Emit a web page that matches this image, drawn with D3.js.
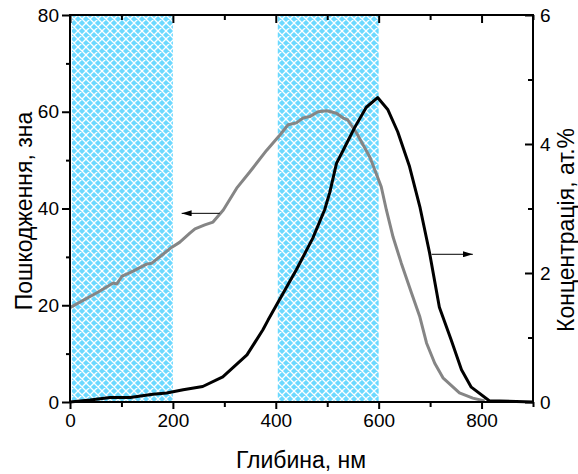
<!DOCTYPE html>
<html>
<head>
<meta charset="utf-8">
<script src="https://cdn.jsdelivr.net/npm/d3@7"></script>
<style>
  body { margin: 0; background: #fff; }
  svg { font-family: "Liberation Sans", Arial, sans-serif; }
</style>
</head>
<body>
<svg id="chart" width="578" height="474"></svg>
<script>
// damage (left axis), depth in nm
const damageDepth = [0, 54, 84, 91, 101, 116, 149, 159, 198, 213, 233, 243, 262, 278, 298, 324, 349, 382, 408, 424, 440, 453, 466, 482, 499, 518, 531, 540, 557, 583, 605, 615, 628, 644, 664, 680, 693, 709, 725, 757, 783, 806];
const damageValue = [19.5, 22.7, 24.6, 24.4, 26, 26.7, 28.5, 28.7, 32, 33, 34.9, 35.8, 36.6, 37.2, 39.7, 44.2, 47.5, 52, 55.2, 57.3, 57.7, 58.7, 59, 60, 60.2, 59.7, 58.7, 58.3, 55.6, 50.6, 44.5, 39.7, 34.1, 28.7, 22.5, 17.6, 12.2, 8, 5, 1.9, 0.8, 0.2];

// concentration (right axis)
const concDepth = [0, 39, 78, 117, 161, 188, 220, 258, 297, 344, 375, 385, 440, 472, 495, 505, 518, 534, 553, 576, 598, 618, 637, 660, 680, 699, 718, 741, 761, 780, 815, 900];
const concValue = [0, 0.03, 0.07, 0.07, 0.12, 0.14, 0.19, 0.24, 0.39, 0.73, 1.12, 1.27, 2.05, 2.54, 2.98, 3.25, 3.7, 3.95, 4.25, 4.57, 4.72, 4.53, 4.19, 3.65, 3.03, 2.31, 1.47, 0.96, 0.5, 0.23, 0.02, 0];

// shaded depth bands
const bands = [[0, 200], [400, 600]];

const xTicks = [0, 200, 400, 600, 800];
const yLeftTicks = [0, 20, 40, 60, 80];
const yRightTicks = [0, 2, 4, 6];

const xTitle = "Глибина, нм";
const yLeftTitle = "Пошкодження, зна";
const yRightTitle = "Концентрація, ат.%";

const svg = d3.select('#chart');
const width = +svg.attr('width');
const height = +svg.attr('height');
const margin = { top: 15, right: 45, bottom: 72, left: 70 };
const innerW = width - margin.left - margin.right;
const innerH = height - margin.top - margin.bottom;

const x = d3.scaleLinear().domain([0, 900]).range([0, innerW]);
const yL = d3.scaleLinear().domain([0, 80]).range([innerH, 0]);
const yR = d3.scaleLinear().domain([0, 6]).range([innerH, 0]);

// hatch pattern
const defs = svg.append('defs');
const pat = defs.append('pattern')
  .attr('id', 'hatch')
  .attr('patternUnits', 'userSpaceOnUse')
  .attr('width', 8).attr('height', 8);
pat.append('rect').attr('width', 8).attr('height', 8).attr('fill', '#6cd9ff');
pat.append('path')
  .attr('d', 'M0,0L8,8M8,0L0,8M-1,7L1,9M7,-1L9,1M-1,1L1,-1M7,9L9,7')
  .attr('stroke', '#fff').attr('stroke-width', 1.3);

defs.append('marker')
  .attr('id', 'head')
  .attr('viewBox', '0 0 10 6')
  .attr('refX', 10).attr('refY', 3)
  .attr('markerWidth', 10).attr('markerHeight', 6)
  .attr('markerUnits', 'userSpaceOnUse')
  .attr('orient', 'auto')
  .append('path').attr('d', 'M0,0L10,3L0,6Z').attr('fill', '#000');

const g = svg.append('g').attr('transform', `translate(${margin.left},${margin.top})`);

g.selectAll('.band').data(bands)
  .join('rect')
    .attr('class', 'band')
    .attr('x', d => x(d[0]) + 2)
    .attr('width', d => x(d[1]) - x(d[0]) - 2)
    .attr('y', 1)
    .attr('height', innerH - 1)
    .attr('fill', 'url(#hatch)');

// curves
const damageLine = d3.line().x(d => x(d[0])).y(d => yL(d[1]));
const concLine = d3.line().x(d => x(d[0])).y(d => yR(d[1]));

g.append('path')
  .datum(d3.zip(damageDepth, damageValue))
  .attr('d', damageLine)
  .attr('fill', 'none')
  .attr('stroke', '#858585')
  .attr('stroke-width', 3)
  .attr('stroke-linejoin', 'round');

g.append('path')
  .datum(d3.zip(concDepth, concValue))
  .attr('d', concLine)
  .attr('fill', 'none')
  .attr('stroke', '#000')
  .attr('stroke-width', 3)
  .attr('stroke-linejoin', 'round');

// arrows pointing to each curve's axis
g.append('line')
  .attr('x1', x(291)).attr('y1', yL(39))
  .attr('x2', x(217)).attr('y2', yL(39))
  .attr('stroke', '#000').attr('stroke-width', 1)
  .attr('marker-end', 'url(#head)');
g.append('line')
  .attr('x1', x(703)).attr('y1', yR(2.29))
  .attr('x2', x(783)).attr('y2', yR(2.29))
  .attr('stroke', '#000').attr('stroke-width', 1)
  .attr('marker-end', 'url(#head)');

// axes
const minor = (ax, scale, vals, len) => {
  ax.call(scale.tickValues(vals).tickSize(len).tickFormat(''));
};
const styleAxis = sel => {
  sel.select('.domain').remove();
  sel.selectAll('line').attr('stroke', '#000').attr('stroke-width', 2);
  sel.selectAll('text').attr('fill', '#000').style('font-size', '19px');
};

const xMinor = d3.range(100, 901, 200);
const yLMinor = d3.range(10, 80, 20);
const yRMinor = [1, 3, 5];

// bottom
const bx = g.append('g').attr('transform', `translate(0,${innerH})`);
bx.call(d3.axisBottom(x).tickValues(xTicks).tickSize(7).tickPadding(5)).call(styleAxis);
const bxm = g.append('g').attr('transform', `translate(0,${innerH})`);
minor(bxm, d3.axisBottom(x), xMinor, 5); bxm.call(styleAxis);

// top
const tx = g.append('g');
tx.call(d3.axisTop(x).tickValues(xTicks).tickSize(-8).tickFormat('')).call(styleAxis);
const txm = g.append('g');
minor(txm, d3.axisTop(x), xMinor, -5); txm.call(styleAxis);

// left
const ly = g.append('g');
ly.call(d3.axisLeft(yL).tickValues(yLeftTicks).tickSize(8).tickPadding(3)).call(styleAxis);
const lym = g.append('g');
minor(lym, d3.axisLeft(yL), yLMinor, 4); lym.call(styleAxis);

// right
const ry = g.append('g').attr('transform', `translate(${innerW},0)`);
ry.call(d3.axisRight(yR).tickValues(yRightTicks).tickFormat(d3.format('d')).tickSize(-8).tickPadding(7)).call(styleAxis);
const rym = g.append('g').attr('transform', `translate(${innerW},0)`);
minor(rym, d3.axisRight(yR), yRMinor, -5); rym.call(styleAxis);

// frame
g.append('rect')
  .attr('width', innerW).attr('height', innerH)
  .attr('fill', 'none').attr('stroke', '#000').attr('stroke-width', 2);

// titles
svg.append('text')
  .attr('x', 301).attr('y', 468)
  .attr('text-anchor', 'middle')
  .style('font-size', '23px')
  .text(xTitle);
svg.append('text')
  .attr('transform', `translate(32,211) rotate(-90)`)
  .attr('text-anchor', 'middle')
  .style('font-size', '23px')
  .text(yLeftTitle);
svg.append('text')
  .attr('transform', `translate(574,230) rotate(-90)`)
  .attr('text-anchor', 'middle')
  .style('font-size', '23px')
  .text(yRightTitle);
</script>
</body>
</html>
